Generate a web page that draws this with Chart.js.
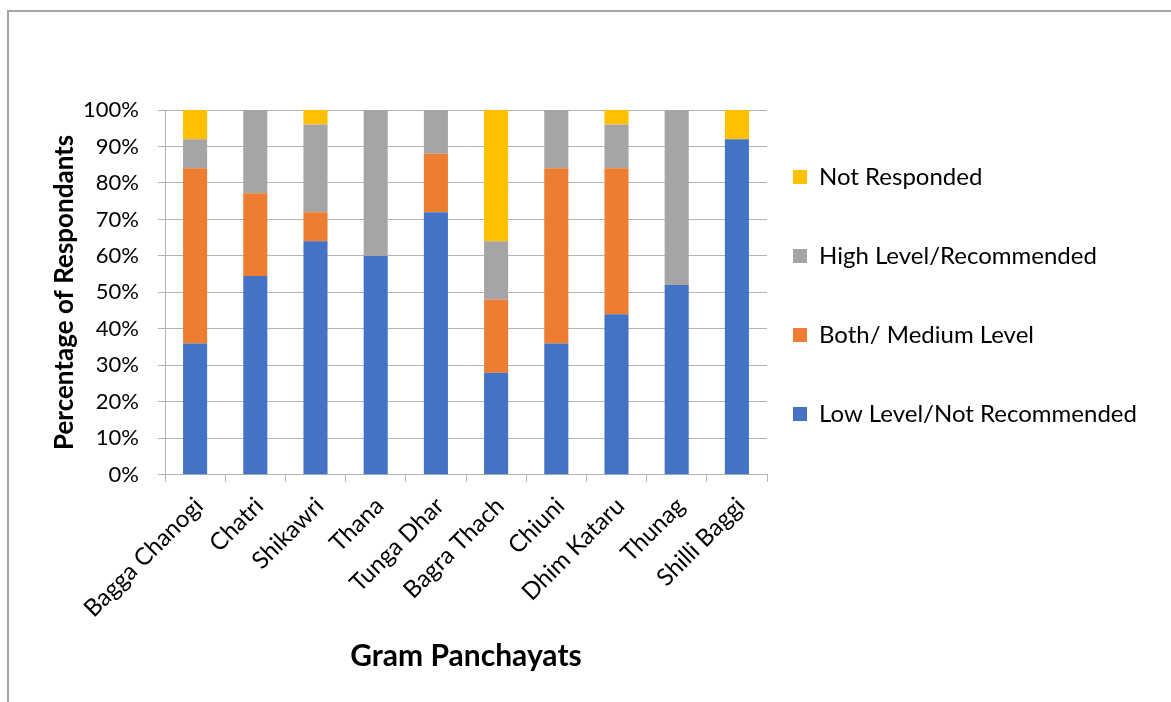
<!DOCTYPE html>
<html>
<head>
<meta charset="utf-8">
<script src="https://cdn.jsdelivr.net/npm/chart.js@4"></script>
<style>
  html, body { margin: 0; padding: 0; background: #fff; }
  #wrap { position: relative; width: 1171px; height: 702px; overflow: hidden; }
  #frame { position: absolute; left: 7px; top: 10px; width: 1200px; height: 720px; border: 2px solid #a6a6a6; box-sizing: border-box; }
  canvas { position: absolute; left: 0; top: 0; }
</style>
</head>
<body>
<div id="wrap">
  <div id="frame"></div>
  <canvas id="respChart" width="1171" height="702"></canvas>
</div>
<script>
const panchayats = ["Bagga Chanogi", "Chatri", "Shikawri", "Thana", "Tunga Dhar", "Bagra Thach", "Chiuni", "Dhim Kataru", "Thunag", "Shilli Baggi"];
const lowLevel = [36, 54.5, 64, 60, 72, 28, 36, 44, 52, 92];
const mediumLevel = [48, 22.7, 8, 0, 16, 20, 48, 40, 0, 0];
const highLevel = [8, 22.8, 24, 40, 12, 16, 16, 12, 48, 0];
const notResponded = [8, 0, 4, 0, 0, 36, 0, 4, 0, 8];
const yTicks = [0, 10, 20, 30, 40, 50, 60, 70, 80, 90, 100];

const fontFamily = "Lato, 'Open Sans', sans-serif";
const gridGray = "#b3b3b3";

// move legend a bit closer to the plot (legend padding also sets row spacing)
const legendShift = {
  id: 'legendShift',
  afterLayout(chart) {
    chart.legend.left -= 29;
  }
};

const ctx = document.getElementById("respChart").getContext('2d');
new Chart(ctx, {
  type: 'bar',
  data: {
    labels: panchayats,
    datasets: [
      { label: "Low Level/Not Recommended", data: lowLevel, backgroundColor: "#4472C4" },
      { label: "Both/ Medium Level", data: mediumLevel, backgroundColor: "#ED7D31" },
      { label: "High Level/Recommended", data: highLevel, backgroundColor: "#A5A5A5" },
      { label: "Not Responded", data: notResponded, backgroundColor: "#FFC000" }
    ]
  },
  options: {
    responsive: false,
    animation: false,
    barPercentage: 0.4,
    categoryPercentage: 1.0,
    layout: { padding: { top: 110, left: 45, right: 0, bottom: 28 } },
    plugins: {
      legend: {
        position: 'right',
        align: 'start',
        reverse: true,
        maxWidth: 404,
        labels: {
          boxWidth: 14,
          boxHeight: 14,
          padding: 55,
          color: "#000",
          font: { family: fontFamily, size: 24 }
        }
      },
      tooltip: { enabled: false }
    },
    scales: {
      x: {
        stacked: true,
        grid: { display: true, drawOnChartArea: false, drawTicks: true, tickLength: 7, color: gridGray, offset: true },
        border: { color: gridGray, width: 1 },
        ticks: { color: "#000", minRotation: 45, maxRotation: 45, padding: 10, labelOffset: 4, font: { family: fontFamily, size: 24 } },
        title: { display: true, text: "Gram Panchayats", color: "#000", padding: { top: 5, bottom: 0 }, font: { family: fontFamily, size: 30, weight: 'bold' } }
      },
      y: {
        stacked: true,
        min: 0,
        max: 100,
        afterBuildTicks(axis) { axis.ticks = yTicks.map(v => ({ value: v })); },
        afterFit(axis) { axis.width = 120; },
        grid: { color: gridGray, tickLength: 7 },
        border: { color: gridGray, width: 1 },
        ticks: { color: "#000", padding: 19, callback: v => v + "%", font: { family: fontFamily, size: 22 } },
        title: { display: true, text: "Percentage of Respondants", color: "#000", padding: { top: 7, bottom: 2 }, font: { family: fontFamily, size: 26, weight: 'bold', lineHeight: 1 } }
      }
    }
  },
  plugins: [legendShift]
});
</script>
</body>
</html>
